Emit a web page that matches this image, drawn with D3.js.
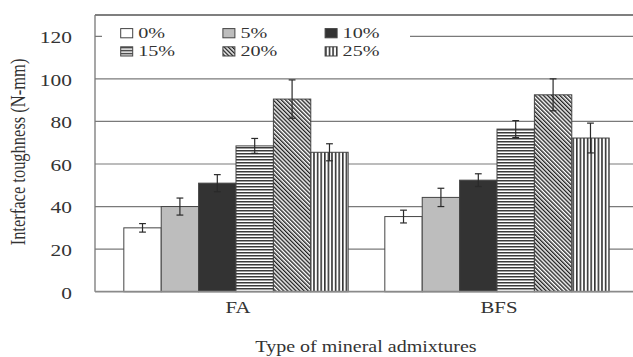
<!DOCTYPE html>
<html>
<head>
<meta charset="utf-8">
<script src="https://cdn.jsdelivr.net/npm/d3@7"></script>
<style>
  html, body { margin: 0; padding: 0; background: #fff; }
  svg { display: block; }
  text { font-family: "Liberation Serif", "Times New Roman", serif; fill: #333; }
</style>
</head>
<body>
<svg id="chart" width="633" height="357"></svg>
<script>
// Interface toughness by mineral admixture type and replacement level
const groups = ["FA", "BFS"];
const series = ["0%", "5%", "10%", "15%", "20%", "25%"];
const faValues = [30, 40, 51, 68.5, 90.5, 65.5];
const faErrors = [2, 4, 4, 3.5, 9, 4];
const bfsValues = [35.3, 44.3, 52.4, 76.4, 92.5, 72.2];
const bfsErrors = [3, 4.3, 3, 4, 7.5, 7];
const yTicks = [0, 20, 40, 60, 80, 100, 120];

const valuesByGroup = { FA: faValues, BFS: bfsValues };
const errorsByGroup = { FA: faErrors, BFS: bfsErrors };

const svg = d3.select("#chart");
const plot = { left: 95, top: 15, right: 640, bottom: 291.7 };
const stretch = 1.3; // horizontally widened serif lettering

const y = d3.scaleLinear().domain([0, 130]).range([plot.bottom, plot.top]);
const x0 = d3.scaleBand().domain(groups).range([105.5, 627.5]).padding(0);
const x1 = d3.scaleBand().domain(series).range([0, x0.bandwidth()])
  .paddingInner(0).paddingOuter(0.49);

// Fill patterns
const defs = svg.append("defs");
const hp = defs.append("pattern").attr("id", "pat-h").attr("patternUnits", "userSpaceOnUse")
  .attr("width", 6).attr("height", 3);
hp.append("rect").attr("width", 6).attr("height", 3).attr("fill", "#fff");
hp.append("rect").attr("y", 0).attr("width", 6).attr("height", 1.5).attr("fill", "#3a3a3a");

const dp = defs.append("pattern").attr("id", "pat-d").attr("patternUnits", "userSpaceOnUse")
  .attr("width", 2.9).attr("height", 6).attr("patternTransform", "rotate(-45)");
dp.append("rect").attr("width", 2.9).attr("height", 6).attr("fill", "#fff");
dp.append("rect").attr("x", 0).attr("width", 1.4).attr("height", 6).attr("fill", "#222");

const vp = defs.append("pattern").attr("id", "pat-v").attr("patternUnits", "userSpaceOnUse")
  .attr("width", 3.6).attr("height", 6);
vp.append("rect").attr("width", 3.6).attr("height", 6).attr("fill", "#fff");
vp.append("rect").attr("x", 0).attr("width", 1.6).attr("height", 6).attr("fill", "#333");

const fills = d3.scaleOrdinal().domain(series)
  .range(["#ffffff", "#bdbdbd", "#333333", "url(#pat-h)", "url(#pat-d)", "url(#pat-v)"]);

// Gridlines
svg.append("g").selectAll("line").data(yTicks.filter(d => d > 0)).join("line")
  .attr("x1", plot.left).attr("x2", plot.right)
  .attr("y1", d => y(d)).attr("y2", d => y(d))
  .attr("stroke", "#7a7a7a").attr("stroke-width", 1.2);

// Frame: top border and left axis
svg.append("line").attr("x1", plot.left).attr("x2", plot.right)
  .attr("y1", plot.top).attr("y2", plot.top).attr("stroke", "#555").attr("stroke-width", 1.3);
svg.append("line").attr("x1", plot.left).attr("x2", plot.left)
  .attr("y1", plot.top).attr("y2", plot.bottom).attr("stroke", "#777").attr("stroke-width", 1.3);

// Y tick labels
svg.append("g").selectAll("text").data(yTicks).join("text")
  .attr("transform", d => `translate(72,${y(d) + 6.8}) scale(${stretch},1)`)
  .attr("text-anchor", "end").attr("font-size", 16.5)
  .text(d => d);

// Bars
const bars = groups.flatMap(g => series.map((s, i) => ({
  group: g, key: s, value: valuesByGroup[g][i], err: errorsByGroup[g][i]
})));

const barG = svg.append("g");
barG.selectAll("rect").data(bars).join("rect")
  .attr("x", d => x0(d.group) + x1(d.key))
  .attr("y", d => y(d.value))
  .attr("width", x1.bandwidth())
  .attr("height", d => y(0) - y(d.value))
  .attr("fill", d => fills(d.key))
  .attr("stroke", "#444").attr("stroke-width", 1);

// Error bars
const errG = svg.append("g").attr("stroke", "#2a2a2a").attr("stroke-width", 1.2);
const cx = d => x0(d.group) + x1(d.key) + x1.bandwidth() / 2;
errG.selectAll("line.v").data(bars).join("line").attr("class", "v")
  .attr("x1", cx).attr("x2", cx)
  .attr("y1", d => y(d.value + d.err)).attr("y2", d => y(d.value - d.err));
errG.selectAll("line.t").data(bars).join("line").attr("class", "t")
  .attr("x1", d => cx(d) - 3.4).attr("x2", d => cx(d) + 3.4)
  .attr("y1", d => y(d.value + d.err)).attr("y2", d => y(d.value + d.err));
errG.selectAll("line.b").data(bars).join("line").attr("class", "b")
  .attr("x1", d => cx(d) - 3.4).attr("x2", d => cx(d) + 3.4)
  .attr("y1", d => y(d.value - d.err)).attr("y2", d => y(d.value - d.err));

// Baseline
svg.append("line").attr("x1", plot.left).attr("x2", plot.right)
  .attr("y1", y(0)).attr("y2", y(0)).attr("stroke", "#8a8a8a").attr("stroke-width", 1.8);

// Category labels
svg.append("g").selectAll("text").data(groups).join("text")
  .attr("transform", d => `translate(${x0(d) + x0.bandwidth() / 2 + 2},313) scale(${stretch},1)`)
  .attr("text-anchor", "middle").attr("font-size", 16)
  .text(d => d);

// Axis titles
svg.append("text")
  .attr("transform", `translate(366,352) scale(1.25,1)`)
  .attr("text-anchor", "middle").attr("font-size", 16)
  .text("Type of mineral admixtures");
svg.append("text")
  .attr("transform", `translate(25,152) scale(1.25,1) rotate(-90)`)
  .attr("text-anchor", "middle").attr("font-size", 16.5)
  .text("Interface toughness (N-mm)");

// Legend
const legend = svg.append("g");
legend.append("rect").attr("x", 102).attr("y", 19).attr("width", 308).attr("height", 42).attr("fill", "#fff");
const item = legend.selectAll("g").data(series).join("g")
  .attr("transform", (d, i) => `translate(${120.7 + (i % 3) * 102.2},${28.6 + Math.floor(i / 3) * 18.2})`);
item.append("rect").attr("width", 12).attr("height", 9.2)
  .attr("fill", d => fills(d)).attr("stroke", "#444").attr("stroke-width", 1);
item.append("text")
  .attr("transform", `translate(17.5,9.6) scale(${stretch},1)`)
  .attr("font-size", 15.5)
  .text(d => d);
</script>
</body>
</html>
